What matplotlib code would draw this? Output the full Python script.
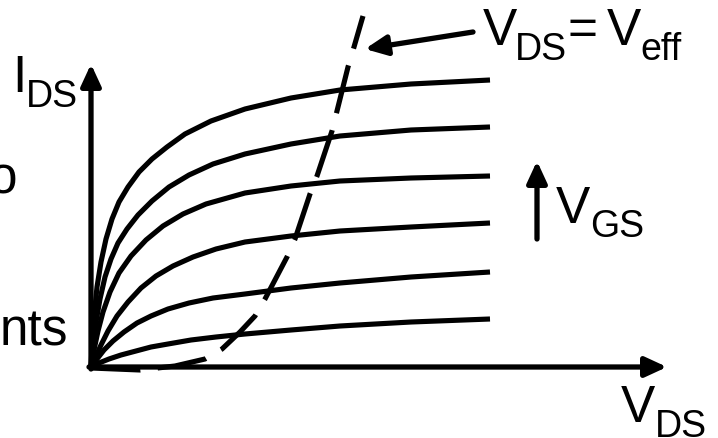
import matplotlib
matplotlib.use("Agg")
import matplotlib.pyplot as plt

plt.rcParams["font.family"] = ["Liberation Sans", "DejaVu Sans"]

# output characteristics, one curve per V_GS step (arbitrary units)
curve_x = [
    [0, 0.01, 0.03, 0.06, 0.1, 0.15, 0.21, 0.28, 0.37, 0.48, 0.61, 0.76, 0.94, 1.2, 1.54, 2.0, 2.49, 3.2, 3.99],
    [0, 0.02, 0.05, 0.09, 0.14, 0.2, 0.27, 0.36, 0.47, 0.61, 0.78, 0.98, 1.22, 1.54, 2.0, 2.49, 3.2, 3.99],
    [0, 0.03, 0.07, 0.12, 0.19, 0.28, 0.4, 0.55, 0.72, 0.92, 1.15, 1.54, 2.0, 2.49, 3.2, 3.99],
    [0, 0.05, 0.1, 0.17, 0.26, 0.37, 0.5, 0.65, 0.82, 1.02, 1.25, 1.54, 2.0, 2.49, 3.2, 3.99],
    [0, 0.06, 0.13, 0.22, 0.33, 0.46, 0.6, 0.77, 0.98, 1.22, 1.54, 2.0, 2.49, 3.2, 3.99],
    [0, 0.08, 0.18, 0.3, 0.45, 0.6, 0.77, 1.0, 1.25, 1.54, 2.0, 2.49, 3.2, 3.99],
]
curve_y = [
    [0, 0.2, 0.5, 0.8, 1.05, 1.28, 1.48, 1.65, 1.8, 1.95, 2.08, 2.2, 2.33, 2.46, 2.58, 2.69, 2.77, 2.83, 2.87],
    [0, 0.2, 0.45, 0.68, 0.9, 1.08, 1.24, 1.38, 1.52, 1.66, 1.8, 1.92, 2.03, 2.13, 2.23, 2.31, 2.37, 2.40],
    [0, 0.17, 0.36, 0.55, 0.75, 0.94, 1.11, 1.27, 1.41, 1.53, 1.63, 1.74, 1.81, 1.86, 1.89, 1.91],
    [0, 0.11, 0.22, 0.36, 0.51, 0.65, 0.79, 0.91, 1.01, 1.1, 1.18, 1.25, 1.31, 1.36, 1.40, 1.44],
    [0, 0.08, 0.17, 0.26, 0.35, 0.44, 0.51, 0.58, 0.64, 0.69, 0.73, 0.79, 0.84, 0.9, 0.95],
    [0, 0.04, 0.08, 0.12, 0.16, 0.2, 0.23, 0.27, 0.3, 0.33, 0.37, 0.41, 0.45, 0.48],
]

# saturation boundary V_DS = V_eff
sat_x = [0, 0.49, 0.84, 1.14, 1.31, 1.49, 1.64, 1.74, 1.96, 2.04, 2.19, 2.26, 2.41, 2.57, 2.63, 2.72]
sat_y = [-0.01, -0.03, 0.01, 0.08, 0.18, 0.35, 0.51, 0.68, 1.10, 1.28, 1.73, 1.91, 2.36, 3.00, 3.20, 3.51]

x_end = 5.76
y_end = 3.03

fig = plt.figure(figsize=(7.18, 4.39), dpi=100)
ax = fig.add_axes([0, 0, 1, 1])
ax.set_xlim(-0.91, 6.27)
ax.set_ylim(-0.71, 3.68)
ax.axis("off")

for xs, ys in zip(curve_x, curve_y):
    ax.plot(xs, ys, color="black", lw=3.7, solid_capstyle="butt", solid_joinstyle="round")

ax.plot(sat_x, sat_y, color="black", lw=3.7, dashes=(9.6, 3.4), dash_capstyle="butt")

arrow = dict(arrowstyle="-|>,head_length=13,head_width=6", mutation_scale=1,
             color="black", lw=3.8, shrinkA=0, shrinkB=0)
ax.annotate("", xy=(x_end, 0), xytext=(-0.02, 0), arrowprops=arrow)
ax.annotate("", xy=(0, y_end), xytext=(0, -0.02), arrowprops=arrow)
ax.annotate("", xy=(4.46, 2.06), xytext=(4.46, 1.28), arrowprops=arrow)
ax.annotate("", xy=(2.74, 3.18), xytext=(3.82, 3.35), arrowprops=arrow)

big = 37
small = 27
ax.text(-0.79, 2.76, "I", fontsize=big, va="baseline")
ax.text(-0.65, 2.61, "DS", fontsize=small, va="baseline")
ax.text(-0.74, 1.75, "o", fontsize=big, va="baseline", ha="right")
ax.text(-0.23, 0.23, "nts", fontsize=big, va="baseline", ha="right")

ax.text(3.92, 3.23, "V", fontsize=big, va="baseline")
ax.text(4.24, 3.08, "DS", fontsize=small, va="baseline")
ax.text(4.76, 3.23, "=", fontsize=big, va="baseline")
ax.text(5.16, 3.23, "V", fontsize=big, va="baseline")
ax.text(5.49, 3.08, "eff", fontsize=small, va="baseline")

ax.text(4.65, 1.45, "V", fontsize=big, va="baseline")
ax.text(4.99, 1.31, "GS", fontsize=small, va="baseline")

ax.text(5.30, -0.54, "V", fontsize=big, va="baseline")
ax.text(5.64, -0.69, "DS", fontsize=small, va="baseline")

fig.savefig("out.png", dpi=100)
